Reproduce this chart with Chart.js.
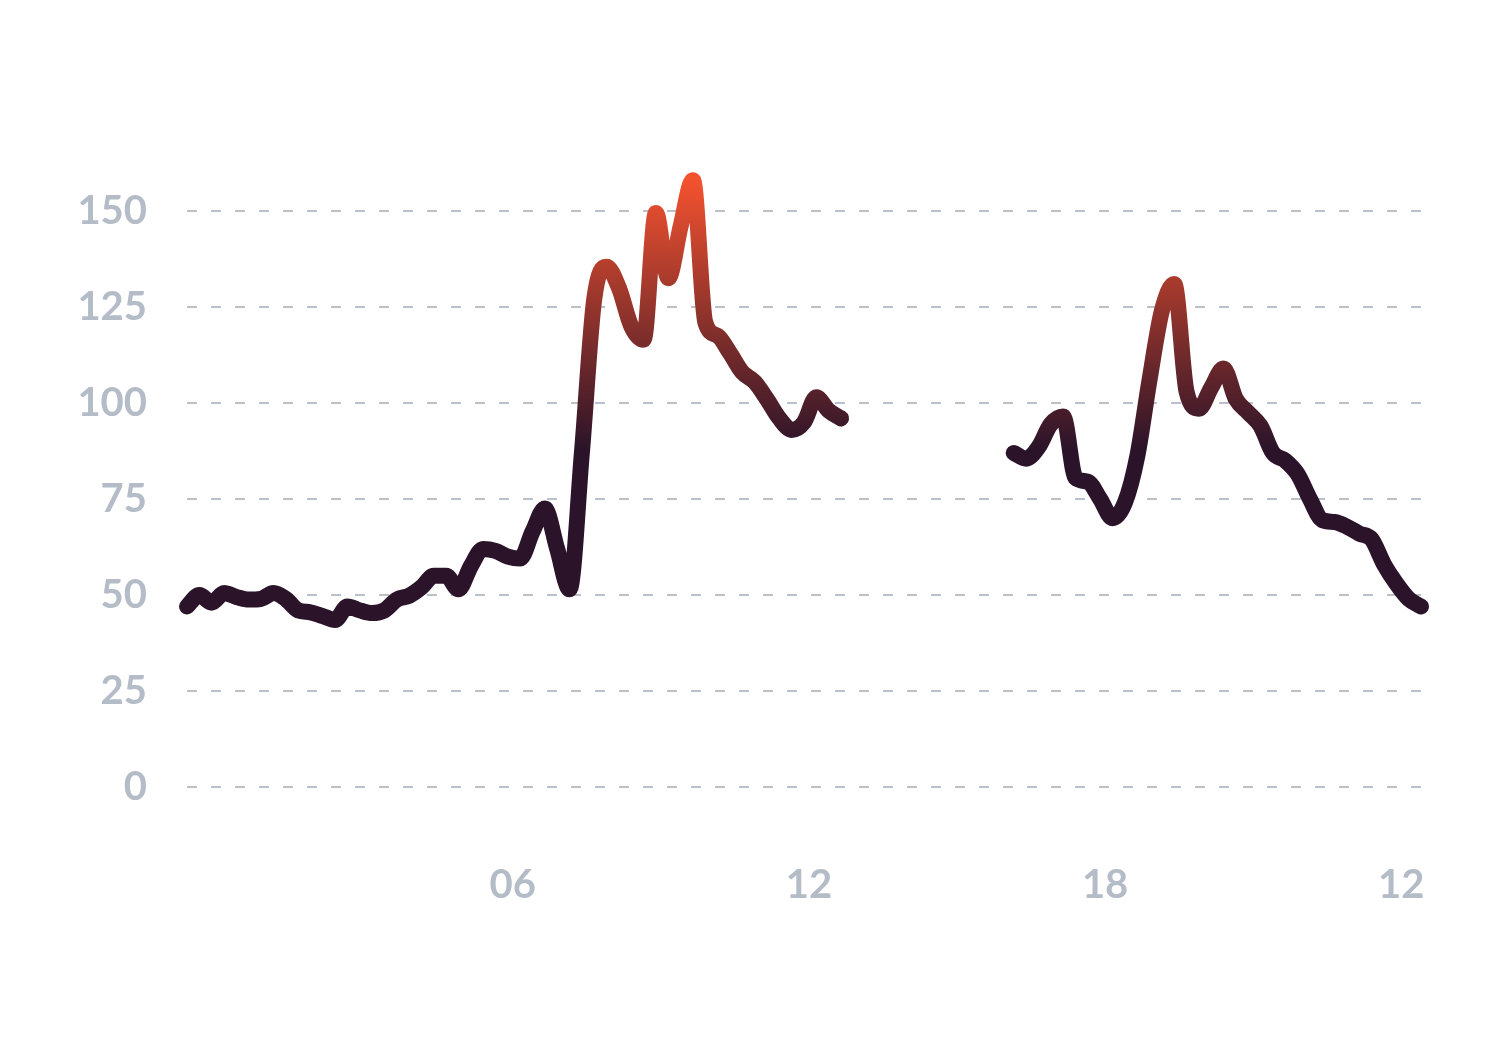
<!DOCTYPE html>
<html><head><meta charset="utf-8">
<script src="https://cdn.jsdelivr.net/npm/chart.js@4/dist/chart.umd.min.js"></script>
<style>html,body{margin:0;padding:0;background:#fff;}#wrap{width:1500px;height:1048px;}</style>
</head><body><div id="wrap"><canvas id="c" width="1500" height="1048"></canvas></div>
<script>
// time axis: one reading every 15 minutes, starting 23:24 the day before
const startTime = '23:24';
const stepMinutes = 15;

const values = [
  47, 50, 48, 50.5, 49.5, 48.8, 49, 50.5, 49, 46,
  45.5, 44.5, 43.5, 47, 46, 45.3, 46, 48.8, 49.8, 52,
  55, 55, 51.5, 57.5, 62, 61.5, 60, 59.5, 66.5, 72.5,
  62, 51.5, 87, 127, 135.5, 130, 120, 116.5, 149.5, 132.5,
  146, 158, 121, 117.5, 113, 108, 105.5, 101, 96, 93,
  95, 101.5, 98, 96, null, null, null, null, null, null,
  null, null, null, null, null, null, null, 87, 85.5, 88.5,
  94.5, 96.5, 80.5, 79.5, 75, 70, 74, 86, 106, 124,
  131, 103, 98.5, 104, 109, 101, 97.5, 94, 87, 85,
  81.5, 75, 69.5, 69, 67.8, 66, 64.5, 58, 53, 49,
  47
];

const yTickValues = [0, 25, 50, 75, 100, 125, 150];
const xTickHours = [6, 12, 18, 24];
const xTickLabels = ['06', '12', '18', '12'];

const [sh, sm] = startTime.split(':').map(Number);
const startHour = (sh * 60 + sm) / 60 - 24;
const hours = values.map((_, i) => startHour + i * stepMinutes / 60);
const points = values.map((v, i) => ({ x: hours[i], y: v }));

const dark = '#2b1429';
const hot = '#f3522f';
const tickColor = '#b4bcc8';
const tickFont = { family: 'Lato', size: 40, weight: 'bold' };

function lineGradient(context) {
  const chart = context.chart;
  const { ctx, chartArea, scales } = chart;
  if (!chartArea) return dark;
  const y0 = scales.y.getPixelForValue(88);
  const y1 = scales.y.getPixelForValue(158);
  const g = ctx.createLinearGradient(0, y0, 0, y1);
  g.addColorStop(0, dark);
  g.addColorStop(1, hot);
  return g;
}

new Chart(document.getElementById('c'), {
  type: 'line',
  data: {
    datasets: [{
      data: points,
      borderColor: lineGradient,
      borderWidth: 16,
      borderCapStyle: 'round',
      borderJoinStyle: 'round',
      cubicInterpolationMode: 'monotone',
      pointRadius: 0,
      pointHoverRadius: 0,
      fill: false,
      spanGaps: false,
      clip: false
    }]
  },
  options: {
    responsive: false,
    devicePixelRatio: 1,
    animation: false,
    layout: { padding: { top: 134.2, right: 79, left: 0, bottom: 0 } },
    plugins: { legend: { display: false }, tooltip: { enabled: false } },
    scales: {
      x: {
        type: 'linear',
        min: hours[0],
        max: hours[hours.length - 1],
        afterBuildTicks: (s) => { s.ticks = xTickHours.map(v => ({ value: v })); },
        afterFit: (s) => { s.height = 1048 - 787; },
        grid: { display: false, drawTicks: false },
        border: { display: false },
        ticks: {
          autoSkip: false, maxRotation: 0, padding: 74,
          color: tickColor, font: tickFont,
          callback: (v, i) => xTickLabels[i]
        }
      },
      y: {
        min: 0,
        max: 170,
        afterBuildTicks: (s) => { s.ticks = yTickValues.map(v => ({ value: v })); },
        afterFit: (s) => { s.width = 187; },
        grid: { color: '#bac0c9', lineWidth: 2, drawTicks: false },
        border: { display: false, dash: [10, 14] },
        ticks: {
          padding: 40,
          color: tickColor, font: tickFont,
          callback: (v) => String(v)
        }
      }
    }
  }
});
</script>
</body></html>
